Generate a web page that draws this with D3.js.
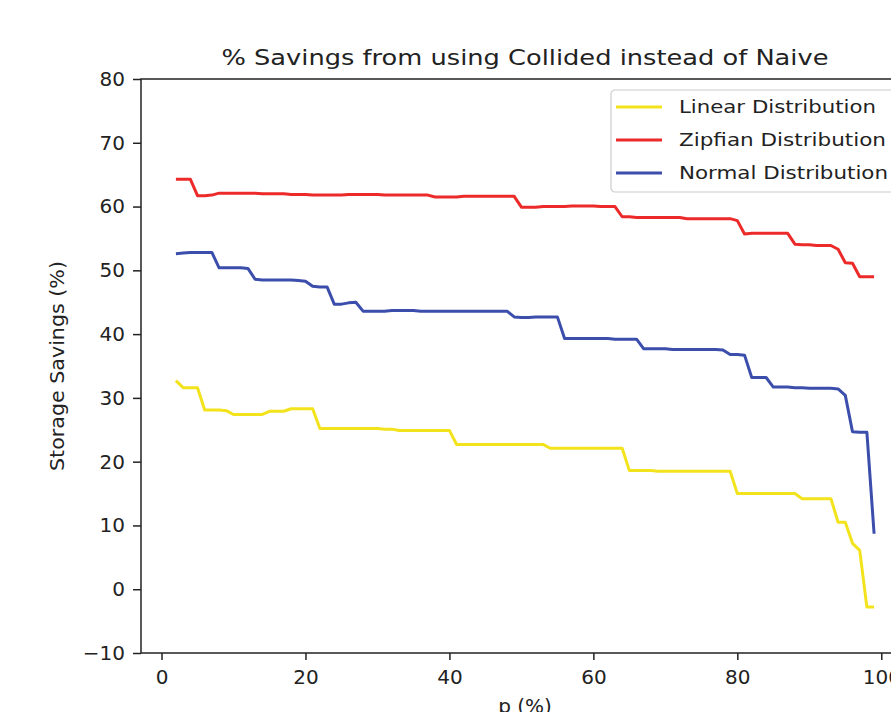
<!DOCTYPE html>
<html>
<head>
<meta charset="utf-8">
<script src="https://cdn.jsdelivr.net/npm/d3@7"></script>
<style>
  body { margin: 0; background: #fff; overflow: hidden; }
  text { font-family: "DejaVu Sans", sans-serif; fill: #222; }
</style>
</head>
<body>
<svg id="chart" width="891" height="712"></svg>
<script>
// p values 2..99
const pValues = d3.range(2, 100)

// Linear Distribution
const linear = [
  32.7, 31.6, 31.6, 31.6, 28.1, 28.1, 28.1, 28.0, 27.4, 27.4,   // 2-11
  27.4, 27.4, 27.4, 27.9, 27.9, 27.9, 28.3, 28.3, 28.3, 28.3,   // 12-21
  25.2, 25.2, 25.2, 25.2, 25.2, 25.2, 25.2, 25.2, 25.2, 25.1,   // 22-31
  25.1, 24.9, 24.9, 24.9, 24.9, 24.9, 24.9, 24.9, 24.9, 22.7,   // 32-41
  22.7, 22.7, 22.7, 22.7, 22.7, 22.7, 22.7, 22.7, 22.7, 22.7,   // 42-51
  22.7, 22.7, 22.1, 22.1, 22.1, 22.1, 22.1, 22.1, 22.1, 22.1,   // 52-61
  22.1, 22.1, 22.1, 18.6, 18.6, 18.6, 18.6, 18.5, 18.5, 18.5,   // 62-71
  18.5, 18.5, 18.5, 18.5, 18.5, 18.5, 18.5, 18.5, 15.0, 15.0,   // 72-81
  15.0, 15.0, 15.0, 15.0, 15.0, 15.0, 15.0, 14.2, 14.2, 14.2,   // 82-91
  14.2, 14.2, 10.5, 10.5, 7.2, 6.1, -2.8, -2.8                  // 92-99
]

// Zipfian Distribution
const zipfian = [
  64.3, 64.3, 64.3, 61.7, 61.7, 61.8, 62.1, 62.1, 62.1, 62.1,   // 2-11
  62.1, 62.1, 62.0, 62.0, 62.0, 62.0, 61.9, 61.9, 61.9, 61.8,   // 12-21
  61.8, 61.8, 61.8, 61.8, 61.9, 61.9, 61.9, 61.9, 61.9, 61.8,   // 22-31
  61.8, 61.8, 61.8, 61.8, 61.8, 61.8, 61.5, 61.5, 61.5, 61.5,   // 32-41
  61.6, 61.6, 61.6, 61.6, 61.6, 61.6, 61.6, 61.6, 59.9, 59.9,   // 42-51
  59.9, 60.0, 60.0, 60.0, 60.0, 60.1, 60.1, 60.1, 60.1, 60.0,   // 52-61
  60.0, 60.0, 58.4, 58.4, 58.3, 58.3, 58.3, 58.3, 58.3, 58.3,   // 62-71
  58.3, 58.1, 58.1, 58.1, 58.1, 58.1, 58.1, 58.1, 57.8, 55.7,   // 72-81
  55.8, 55.8, 55.8, 55.8, 55.8, 55.8, 54.1, 54.0, 54.0, 53.9,   // 82-91
  53.9, 53.9, 53.3, 51.2, 51.1, 49.0, 49.0, 49.0                // 92-99
]

// Normal Distribution
const normal = [
  52.6, 52.7, 52.8, 52.8, 52.8, 52.8, 50.4, 50.4, 50.4, 50.4,   // 2-11
  50.3, 48.6, 48.5, 48.5, 48.5, 48.5, 48.5, 48.4, 48.3, 47.5,   // 12-21
  47.4, 47.4, 44.7, 44.7, 44.9, 45.0, 43.6, 43.6, 43.6, 43.6,   // 22-31
  43.7, 43.7, 43.7, 43.7, 43.6, 43.6, 43.6, 43.6, 43.6, 43.6,   // 32-41
  43.6, 43.6, 43.6, 43.6, 43.6, 43.6, 43.6, 42.7, 42.6, 42.6,   // 42-51
  42.7, 42.7, 42.7, 42.7, 39.3, 39.3, 39.3, 39.3, 39.3, 39.3,   // 52-61
  39.3, 39.2, 39.2, 39.2, 39.2, 37.7, 37.7, 37.7, 37.7, 37.6,   // 62-71
  37.6, 37.6, 37.6, 37.6, 37.6, 37.6, 37.5, 36.8, 36.8, 36.7,   // 72-81
  33.2, 33.2, 33.2, 31.7, 31.7, 31.7, 31.6, 31.6, 31.5, 31.5,   // 82-91
  31.5, 31.5, 31.4, 30.4, 24.7, 24.6, 24.6, 8.7                 // 92-99
]

const seriesNames = ["Linear Distribution", "Zipfian Distribution", "Normal Distribution"]
const seriesColors = ["#f3e31c", "#ec2a2a", "#3c4eab"]
const seriesValues = [linear, zipfian, normal]

const xTicks = [0, 20, 40, 60, 80, 100]
const yTicks = [-10, 0, 10, 20, 30, 40, 50, 60, 70, 80]

const svg = d3.select("#chart")
const plotLeft = 141, plotRight = 909, plotTop = 79, plotBottom = 653

const x = d3.scaleLinear().domain([-2.85, 103.85]).range([plotLeft, plotRight])
const y = d3.scaleLinear().domain([-10, 80]).range([plotBottom, plotTop])

// lines
const line = d3.line().x(d => x(d[0])).y(d => y(d[1]))
seriesValues.forEach((vals, i) => {
  svg.append("path")
    .datum(pValues.map((p, j) => [p, vals[j]]))
    .attr("fill", "none")
    .attr("stroke", seriesColors[i])
    .attr("stroke-width", 3)
    .attr("stroke-linejoin", "round")
    .attr("d", line)
})

// axes
const xAxis = svg.append("g")
  .attr("transform", `translate(0,${plotBottom})`)
  .call(d3.axisBottom(x).tickValues(xTicks).tickSize(7).tickPadding(8))
const yAxis = svg.append("g")
  .attr("transform", `translate(${plotLeft},0)`)
  .call(d3.axisLeft(y).tickValues(yTicks).tickSize(8).tickPadding(8)
    .tickFormat(d => d < 0 ? "\u2212" + Math.abs(d) : d))
;[xAxis, yAxis].forEach(g => {
  g.select(".domain").remove()
  g.selectAll(".tick line").attr("stroke", "#222").attr("stroke-width", 1.5)
  g.selectAll(".tick text").attr("font-size", 20).attr("fill", "#222")
    .style("font-family", "DejaVu Sans, sans-serif")
})
xAxis.selectAll(".tick text").attr("dy", "0.82em")

// spines
svg.append("rect")
  .attr("x", plotLeft).attr("y", plotTop)
  .attr("width", plotRight - plotLeft).attr("height", plotBottom - plotTop)
  .attr("fill", "none").attr("stroke", "#222").attr("stroke-width", 1.5)

// title + axis labels
svg.append("text")
  .attr("x", (plotLeft + plotRight) / 2).attr("y", 65)
  .attr("text-anchor", "middle").attr("font-size", 22)
  .attr("textLength", 607).attr("lengthAdjust", "spacingAndGlyphs")
  .text("% Savings from using Collided instead of Naive")

svg.append("text")
  .attr("x", (plotLeft + plotRight) / 2).attr("y", 713)
  .attr("text-anchor", "middle").attr("font-size", 20)
  .text("p (%)")

svg.append("text")
  .attr("transform", `translate(64,${(plotTop + plotBottom) / 2}) rotate(-90)`)
  .attr("text-anchor", "middle").attr("font-size", 20)
  .attr("textLength", 210).attr("lengthAdjust", "spacingAndGlyphs")
  .text("Storage Savings (%)")

// legend
const legend = svg.append("g").attr("transform", "translate(611,90)")
legend.append("rect")
  .attr("width", 320).attr("height", 102).attr("rx", 4)
  .attr("fill", "#fff").attr("fill-opacity", 0.8)
  .attr("stroke", "#cccccc").attr("stroke-width", 1.2)
seriesNames.forEach((name, i) => {
  const row = legend.append("g").attr("transform", `translate(0,${17 + i * 33})`)
  row.append("line")
    .attr("x1", 5).attr("x2", 51)
    .attr("stroke", seriesColors[i]).attr("stroke-width", 3)
  row.append("text")
    .attr("x", 68).attr("dy", "0.36em").attr("font-size", 18)
    .attr("textLength", [197, 207, 209][i]).attr("lengthAdjust", "spacingAndGlyphs")
    .text(name)
})
</script>
</body>
</html>
